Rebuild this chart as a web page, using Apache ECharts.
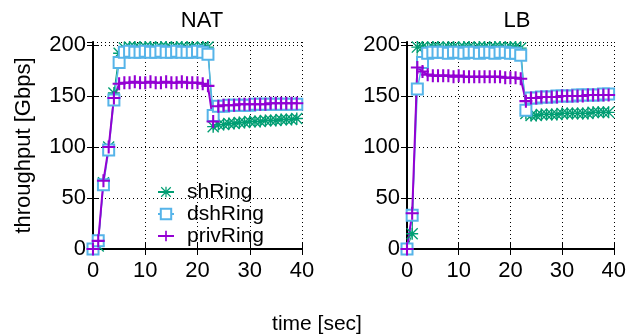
<!DOCTYPE html>
<html>
<head>
<meta charset="utf-8">
<script src="https://cdn.jsdelivr.net/npm/echarts@6/dist/echarts.min.js"></script>
<style>
  html, body { margin: 0; padding: 0; background: #fff; }
  #chart { width: 629px; height: 336px; }
</style>
</head>
<body>
<div id="chart"></div>
<script>
// time axis, one sample per second
var timeSec = [];
for (var i = 0; i < 40; i++) timeSec.push(i);

// NAT panel
var natShRing = [0, 3, 65, 100, 153, 192,
  197, 198, 198, 197, 198, 198, 197, 198, 198, 197, 198, 198, 197, 198, 197, 198, 198,
  120, 122, 122, 123, 123, 124, 124, 125, 125, 125, 126, 126, 126, 127, 127, 127, 128];
var natDshRing = [0, 8, 63, 97, 146, 183,
  193, 194, 193, 193, 194, 193, 193, 194, 193, 193, 194, 193, 193, 193, 194, 193, 191,
  131, 140, 140, 141, 141, 141, 141, 141, 142, 142, 142, 142, 142, 142, 142, 142, 142];
var natPrivRing = [0, 8, 67, 100, 148, 162,
  163, 163, 164, 163, 163, 164, 163, 163, 164, 163, 163, 164, 163, 163, 163, 162, 160,
  125, 140, 141, 141, 141, 142, 142, 142, 142, 142, 142, 143, 143, 143, 143, 143, 143];

// LB panel
var lbShRing = [0, 15, 198, 198, 197, 198,
  198, 197, 198, 198, 197, 198, 198, 197, 198, 198, 197, 198, 198, 197, 198, 198, 197,
  133, 131, 131, 132, 132, 132, 132, 133, 133, 133, 133, 133, 133, 134, 134, 134, 134];
var lbDshRing = [0, 33, 157, 183, 192, 193,
  193, 193, 192, 193, 193, 192, 193, 193, 192, 193, 193, 192, 193, 193, 192, 192, 190,
  136, 148, 148, 149, 149, 149, 150, 150, 150, 150, 151, 151, 151, 151, 151, 152, 152];
var lbPrivRing = [0, 35, 178, 174, 171, 170,
  170, 170, 170, 169, 170, 169, 169, 169, 169, 169, 169, 169, 169, 168, 168, 168, 167,
  145, 148, 148, 149, 149, 149, 149, 150, 150, 150, 150, 150, 151, 151, 151, 151, 151];

var FONT = 'Liberation Sans, Arial, sans-serif';
var FS = 22;
var GREEN = '#009e73', BLUE = '#56b4e9', PURPLE = '#9400d3';

// gnuplot-like point shapes
var STAR = 'path://M4.4,0L5.6,0L5.6,10L4.4,10Z M0,4.4L10,4.4L10,5.6L0,5.6Z ' +
  'M0,0.8L0.8,0L10,9.2L9.2,10Z M0.8,10L0,9.2L9.2,0L10,0.8Z';
var PLUS = 'path://M4.2,0L5.8,0L5.8,4.2L10,4.2L10,5.8L5.8,5.8L5.8,10L4.2,10L4.2,5.8L0,5.8L0,4.2L4.2,4.2Z';

function pairs(ys) {
  return ys.map(function (v, k) { return [timeSec[k], v]; });
}

function xAxes(gi) {
  return [{
    gridIndex: gi, type: 'value', min: 0, max: 40, interval: 10,
    axisLine: { lineStyle: { color: '#000', width: 2 } },
    axisTick: { inside: true, length: 6, lineStyle: { color: '#000' } },
    axisLabel: { color: '#000', fontSize: FS, fontFamily: FONT, margin: 11 },
    splitLine: { show: true, lineStyle: { color: '#000', type: [1, 3], width: 1 } }
  }, {
    gridIndex: gi, type: 'value', min: 0, max: 40, interval: 10, position: 'top',
    axisLine: { lineStyle: { color: '#000', width: 1 } },
    axisTick: { inside: true, length: 6, lineStyle: { color: '#000' } },
    axisLabel: { show: false }, splitLine: { show: false }
  }];
}

function yAxes(gi, withName) {
  return [{
    gridIndex: gi, type: 'value', min: 0, max: 203, interval: 50,
    name: withName ? 'throughput [Gbps]' : '',
    nameLocation: 'middle', nameRotate: 90, nameGap: 58,
    nameTextStyle: { color: '#000', fontSize: FS, fontFamily: FONT },
    axisLine: { show: true, lineStyle: { color: '#000', width: 2 } },
    axisTick: { show: true, inside: true, length: 6, lineStyle: { color: '#000' } },
    axisLabel: { color: '#000', fontSize: FS, fontFamily: FONT, margin: 7 },
    splitLine: { show: true, lineStyle: { color: '#000', type: [1, 3], width: 1 } }
  }, {
    gridIndex: gi, type: 'value', min: 0, max: 203, interval: 50, position: 'right',
    axisLine: { show: true, lineStyle: { color: '#000', width: 1 } },
    axisTick: { show: true, inside: true, length: 6, lineStyle: { color: '#000' } },
    axisLabel: { show: false }, splitLine: { show: false }
  }];
}

function makeSeries(gi, sh, dsh, priv) {
  return [{
    name: 'shRing', type: 'line', xAxisIndex: gi * 2, yAxisIndex: gi * 2,
    data: pairs(sh), symbol: STAR, symbolSize: 12, showAllSymbol: true,
    itemStyle: { color: GREEN }, lineStyle: { color: GREEN, width: 1 }
  }, {
    name: 'dshRing', type: 'line', xAxisIndex: gi * 2, yAxisIndex: gi * 2,
    data: pairs(dsh), symbol: 'emptyRect', symbolSize: 11, showAllSymbol: true,
    itemStyle: { color: BLUE, borderWidth: 1.6 }, lineStyle: { color: BLUE, width: 1.5 }
  }, {
    name: 'privRing', type: 'line', xAxisIndex: gi * 2, yAxisIndex: gi * 2,
    data: pairs(priv), symbol: PLUS, symbolSize: 13, showAllSymbol: true,
    itemStyle: { color: PURPLE }, lineStyle: { color: PURPLE, width: 2 }
  }];
}

var chart = echarts.init(document.getElementById('chart'));
chart.setOption({
  backgroundColor: '#fff',
  animation: false,
  title: [
    { text: 'NAT', left: 197, top: 5, textAlign: 'center',
      textStyle: { color: '#000', fontSize: FS, fontWeight: 'normal', fontFamily: FONT } },
    { text: 'LB', left: 512, top: 5, textAlign: 'center',
      textStyle: { color: '#000', fontSize: FS, fontWeight: 'normal', fontFamily: FONT } },
    { text: 'time [sec]', left: 312, top: 309, textAlign: 'center',
      textStyle: { color: '#000', fontSize: 21, fontWeight: 'normal', fontFamily: FONT } }
  ],
  legend: {
    orient: 'vertical', left: 152, top: 176, itemWidth: 16, itemHeight: 13, itemGap: 0,
    textStyle: { color: '#000', fontSize: 21, lineHeight: 22, fontFamily: FONT, padding: [0, 0, 0, 8] },
    data: ['shRing', 'dshRing', 'privRing']
  },
  grid: [
    { left: 93, right: 327, top: 42, bottom: 87 },
    { left: 407, right: 12, top: 42, bottom: 87 }
  ],
  xAxis: xAxes(0).concat(xAxes(1)),
  yAxis: yAxes(0, true).concat(yAxes(1, false)),
  series: makeSeries(0, natShRing, natDshRing, natPrivRing)
    .concat(makeSeries(1, lbShRing, lbDshRing, lbPrivRing))
});
</script>
</body>
</html>
